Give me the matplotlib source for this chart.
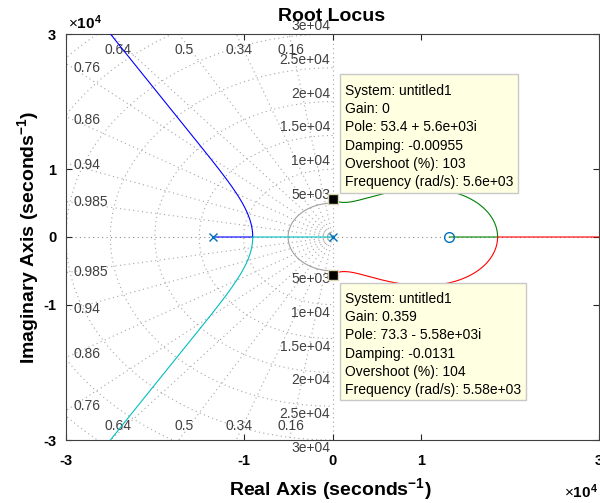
import numpy as np
import matplotlib
matplotlib.use("Agg")
import matplotlib.pyplot as plt
from matplotlib.patches import Rectangle

plt.rcParams["font.family"] = ["Liberation Sans", "DejaVu Sans"]
plt.rcParams["mathtext.fontset"] = "custom"
plt.rcParams["mathtext.rm"] = "Liberation Sans"
plt.rcParams["mathtext.bf"] = "Liberation Sans:bold"
plt.rcParams["mathtext.it"] = "Liberation Sans:italic"

# ---- system: open-loop poles / zeros (rad/s) ----
open_loop_poles = [-13400.0, 0.0, 53.4 + 5600j, 53.4 - 5600j]
open_loop_zeros = [13150.0]
loop_gain_sign = -1.0  # plant has a negative leading coefficient

# ---- s-plane grid ----
damping_values = [0.16, 0.34, 0.5, 0.64, 0.76, 0.86, 0.94, 0.985]
damping_labels = ["0.16", "0.34", "0.5", "0.64", "0.76", "0.86", "0.94", "0.985"]
wn_values = [5e3, 1e4, 1.5e4, 2e4, 2.5e4, 3e4, 3.5e4, 4e4]
wn_labels = ["5e+03", "1e+04", "1.5e+04", "2e+04", "2.5e+04", "3e+04"]

tick_values = [-3e4, -1e4, 0, 1e4, 3e4]
tick_labels = ["-3", "-1", "0", "1", "3"]

# ---- data tips ----
tip_poles = [53.4 + 5600j, 73.3 - 5580j]
tip_system = ["untitled1", "untitled1"]
tip_gain = ["0", "0.359"]
tip_pole_text = ["53.4 + 5.6e+03i", "73.3 - 5.58e+03i"]
tip_damping = ["-0.00955", "-0.0131"]
tip_overshoot = ["103", "104"]
tip_freq = ["5.6e+03", "5.58e+03"]

branch_colors = ["#0000ff", "#008000", "#ff0000", "#00bfbf"]
pz_color = "#0072bd"
grid_color = "#a6a6a6"
label_color = "#404040"

W, H = 600, 503
fig = plt.figure(figsize=(W / 100, H / 100), dpi=100)
ax_l, ax_r, ax_t, ax_b = 66, 599, 34, 440
ax = fig.add_axes([ax_l / W, 1 - ax_b / H, (ax_r - ax_l) / W, (ax_b - ax_t) / H])


def fx(px):
    return px / W


def fy(py):
    return 1 - py / H


# ---- root locus computation ----
scale = 1e4
den = np.real(np.poly(np.array(open_loop_poles) / scale))
num_core = np.real(np.poly(np.array(open_loop_zeros) / scale))
num = np.concatenate([np.zeros(len(den) - len(num_core)), num_core])

bp_poly = np.polysub(np.polymul(np.polyder(den), num_core),
                     np.polymul(den, np.polyder(num_core)))
break_k = []
for s in np.roots(bp_poly):
    if abs(s.imag) < 1e-9:
        k = -np.polyval(den, s.real) / (loop_gain_sign * np.polyval(num_core, s.real))
        if k > 0:
            break_k.append(k)

gains = np.sort(np.concatenate([[0.0], np.logspace(-6, 4, 40000), break_k]))
branches = np.zeros((4, len(gains)), dtype=complex)
tol = 1e-6
for i, k in enumerate(gains):
    r = np.roots(den + loop_gain_sign * k * num)
    r = r[np.argsort(r.real)]
    r = np.array([complex(z.real, 0.0) if abs(z.imag) < tol else z for z in r])
    left, right = r[:2], r[2:]
    if np.all(left.imag == 0):
        b, c = sorted(left, key=lambda z: z.real)
    else:
        b, c = sorted(left, key=lambda z: -z.imag)
    if np.all(right.imag == 0):
        g, rd = sorted(right, key=lambda z: z.real)
    else:
        g, rd = sorted(right, key=lambda z: -z.imag)
    branches[:, i] = [b, g, rd, c]
branches *= scale

# ---- grid ----
grid_ls = (0, (1, 3))
ax.axhline(0, color="#8c8c8c", lw=0.8, ls=grid_ls, zorder=1)
ax.axvline(0, color=grid_color, lw=0.8, ls=grid_ls, zorder=1)
rr = np.array([0.0, 8e4])
for z in damping_values:
    sn = np.sqrt(1 - z * z)
    for sgn in (1, -1):
        ax.plot(-rr * z, sgn * rr * sn, color=grid_color, lw=0.8, ls=grid_ls, zorder=1)
phi = np.linspace(np.pi / 2, 3 * np.pi / 2, 500)
for j, w in enumerate(wn_values):
    if j == 0:
        ax.plot(w * np.cos(phi), w * np.sin(phi), color="#a0a0a0", lw=0.8, zorder=1)
    else:
        ax.plot(w * np.cos(phi), w * np.sin(phi), color=grid_color, lw=0.8, ls=grid_ls, zorder=1)

# damping labels
for z, lab in zip(damping_values, damping_labels):
    sn = np.sqrt(1 - z * z)
    if z < np.sqrt(0.5):
        xl = -2.9e4 * z / sn
        for yl in (2.76e4, -2.79e4):
            ax.text(xl, yl, lab, ha="center", va="center", fontsize=10, color=label_color,
                    zorder=2)
    else:
        yl = 2.92e4 * sn / z
        for sgn in (1, -1):
            ax.text(-2.92e4, sgn * yl, lab, ha="left", va="center", fontsize=10,
                    color=label_color, zorder=2)

# natural-frequency labels
for w, lab in zip(wn_values, wn_labels):
    ax.text(-250, w + 150, lab, ha="right", va="bottom", fontsize=10, color=label_color,
            zorder=2, clip_on=False)
    ax.text(-250, -w - 150, lab, ha="right", va="top", fontsize=10, color=label_color,
            zorder=2, clip_on=False)

# ---- locus branches ----
for br, col in zip(branches, branch_colors):
    ax.plot(br.real, br.imag, color=col, lw=0.8, zorder=3)

# poles and zeros
pr = np.array(open_loop_poles)
zr = np.array(open_loop_zeros)
ax.plot(pr.real, pr.imag, ls="none", marker="x", ms=6, mew=1.0, color=pz_color, zorder=4)
ax.plot(zr.real, np.zeros_like(zr), ls="none", marker="o", ms=7, mew=1.0, mfc="none",
        mec=pz_color, zorder=4)

# data tip markers
tp = np.array(tip_poles)
ax.plot(tp.real, tp.imag, ls="none", marker="s", ms=7.5, mfc="black", mec="#d8d4b0",
        mew=1.0, zorder=6, clip_on=False)

# ---- axes styling ----
ax.set_xlim(-3e4, 3e4)
ax.set_ylim(-3e4, 3e4)
ax.set_xticks(tick_values)
ax.set_xticklabels(tick_labels)
ax.set_yticks(tick_values)
ax.set_yticklabels(tick_labels)
ax.tick_params(direction="in", top=True, right=True, length=4, width=0.8,
               color="#262626", labelsize=10.5, pad=7)
ax.tick_params(axis="x", pad=10)
for lbl in ax.get_xticklabels() + ax.get_yticklabels():
    lbl.set_fontweight("bold")
for sp in ax.spines.values():
    sp.set_color("#404040")
    sp.set_linewidth(0.8)

fig.text(fx(ax_l + 2), fy(29), r"$\times\mathbf{10^{4}}$", fontsize=11, ha="left",
         va="baseline")
fig.text(fx(598), fy(498), r"$\times\mathbf{10^{4}}$", fontsize=11, ha="right",
         va="baseline")

fig.text(fx(332), fy(21), "Root Locus", fontsize=14, fontweight="bold", ha="center",
         va="baseline")
fig.text(fx(330), fy(495), r"Real Axis (seconds$^{\mathbf{-1}}$)", fontsize=14,
         fontweight="bold", ha="center", va="baseline")
fig.text(fx(34), fy(237), r"Imaginary Axis (seconds$^{\mathbf{-1}}$)", fontsize=14,
         fontweight="bold", ha="center", va="baseline", rotation=90,
         rotation_mode="anchor")

# ---- data tip boxes ----
boxes = [(340, 74, 518, 193, 95), (340, 283, 526, 400, 303)]
for i, (x0, y0, x1, y1, base) in enumerate(boxes):
    fig.patches.append(Rectangle((fx(x0), fy(y1)), fx(x1) - fx(x0), fy(y0) - fy(y1),
                                 transform=fig.transFigure, fc="#ffffe1", ec="#c8c8c8",
                                 lw=1.0, zorder=7))
    lines = [f"System: {tip_system[i]}",
             f"Gain: {tip_gain[i]}",
             f"Pole: {tip_pole_text[i]}",
             f"Damping: {tip_damping[i]}",
             f"Overshoot (%): {tip_overshoot[i]}",
             f"Frequency (rad/s): {tip_freq[i]}"]
    for j, t in enumerate(lines):
        fig.text(fx(345), fy(base + j * 18.2), t, fontsize=10, ha="left", va="baseline",
                 zorder=8)

fig.savefig("out.png", dpi=100)
